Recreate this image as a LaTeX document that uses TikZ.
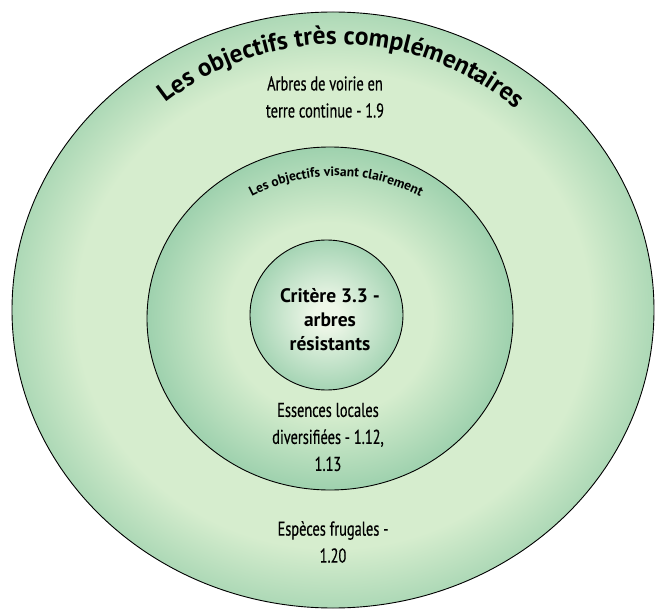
\documentclass[tikz,border=0pt]{standalone}
\usepackage{fontspec}
\setmainfont{PT Sans}
\newfontfamily\condfont[FakeStretch=0.72,FakeBold=0.4]{PT Sans}
\usetikzlibrary{decorations.text}
\definecolor{ringdark}{RGB}{148,204,168}
\definecolor{ringlight}{RGB}{214,237,206}
\definecolor{corelight}{RGB}{238,247,232}
\pgfdeclareradialshading{outerring}{\pgfpoint{0bp}{0bp}}{color(0bp)=(ringlight); color(20bp)=(ringlight); color(28bp)=(ringdark); color(50bp)=(ringdark)}
\pgfdeclareradialshading{middlering}{\pgfpoint{0bp}{0bp}}{color(0bp)=(ringlight); color(14bp)=(ringlight); color(27bp)=(ringdark); color(50bp)=(ringdark)}
\pgfdeclareradialshading{corering}{\pgfpoint{0bp}{0bp}}{color(0bp)=(corelight); color(4bp)=(corelight); color(30bp)=(ringdark); color(50bp)=(ringdark)}
\tikzset{
  ringline/.style={draw=black,line width=0.9pt},
  objtext/.style={font=\condfont\fontsize{20}{27}\selectfont,align=center},
  coretext/.style={font=\bfseries\fontsize{19.5}{24}\selectfont,align=center}
}
\begin{document}
\begin{tikzpicture}[x=1pt,y=1pt]
\useasboundingbox (-333,-300) rectangle (322,310);
\shade[ringline,shading=outerring] (0,0) ellipse [x radius=321,y radius=298];
\shade[ringline,shading=middlering] (-3,-8.5) ellipse [x radius=183,y radius=171.5];
\shade[ringline,shading=corering] (-6.5,-5) ellipse [x radius=76.5,y radius=75];
\path[decorate,decoration={text along path,text align=center,
  text={|\bfseries\fontsize{25.5}{25.5}\selectfont|Les objectifs très complémentaires}}]
  (4,-12) ++(135:278) arc [start angle=135,end angle=43,radius=278];
\path[decorate,decoration={text along path,text align=center,
  text={|\bfseries\fontsize{13.5}{13.5}\selectfont|Les objectifs visant clairement}}]
  (3,-46) ++(128:180) arc [start angle=128,end angle=52,radius=180];
\node[objtext] (voirie) at (-8,213) {Arbres de voirie en\\terre continue - 1.9};
\node[coretext] (critere) at (-3,-10) {Critère 3.3 -\\arbres\\résistants};
\node[objtext] (essences) at (-5,-127) {Essences locales\\diversifiées - 1.12,\\1.13};
\node[objtext] (especes) at (0,-232) {Espèces frugales -\\1.20};
\end{tikzpicture}
\end{document}
